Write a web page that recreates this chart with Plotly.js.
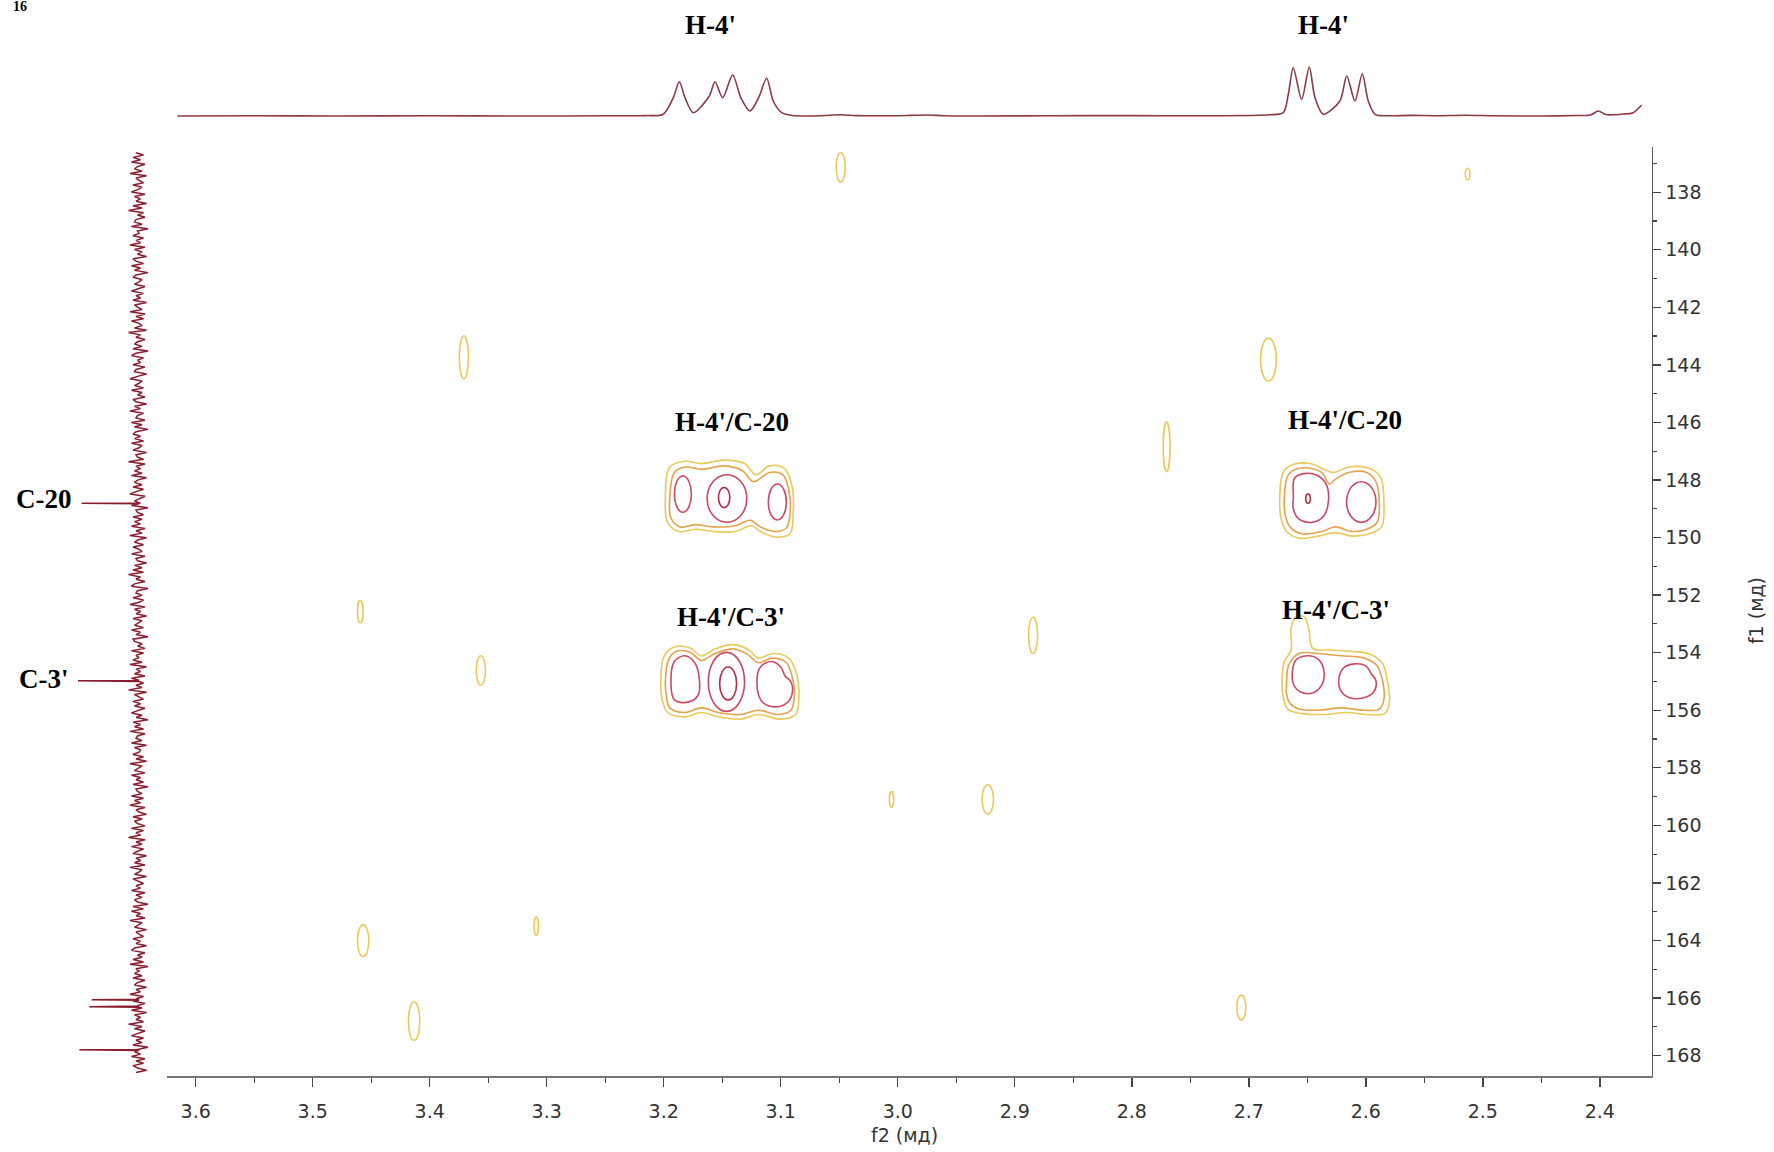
<!DOCTYPE html>
<html><head><meta charset="utf-8">
<script src="https://cdn.plot.ly/plotly-3.0.1.min.js"></script>
<style>html,body{margin:0;padding:0;background:#fff;}#chart{width:1774px;height:1152px;}</style>
</head><body><div id="chart"></div>
<script>
// ---------- axes ----------
const f2TickVals = [3.6,3.5,3.4,3.3,3.2,3.1,3.0,2.9,2.8,2.7,2.6,2.5,2.4];
const f2TickText = ['3.6','3.5','3.4','3.3','3.2','3.1','3.0','2.9','2.8','2.7','2.6','2.5','2.4'];
const f2MinorTicks = [3.55,3.45,3.35,3.25,3.15,3.05,2.95,2.85,2.75,2.65,2.55,2.45];
const f1TickVals = [138,140,142,144,146,148,150,152,154,156,158,160,162,164,166,168];
const f1TickText = ['138','140','142','144','146','148','150','152','154','156','158','160','162','164','166','168'];
const f1MinorTicks = [137,139,141,143,145,147,149,151,153,155,157,159,161,163,165,167];

// ---------- 1H projection (top) ----------
const h1Ppm = [3.6155,3.55,3.48,3.40,3.32,3.25,3.215,3.2004,3.1918,3.1867,3.1818,3.1747,3.1610,3.1562,3.1496,3.1411,3.1340,3.1263,3.1190,3.1120,3.1064,3.0992,3.090,3.065,3.050,3.035,3.010,2.990,2.975,2.960,2.930,2.870,2.800,2.740,2.700,2.682,2.6705,2.6662,2.6620,2.6548,2.6483,2.6434,2.6363,2.6221,2.6163,2.6092,2.6030,2.5979,2.5921,2.585,2.560,2.540,2.515,2.490,2.450,2.420,2.408,2.4013,2.395,2.388,2.380,2.372,2.3642];
const h1Int = [0,0.2,0,0.3,0,0.2,0.4,1.7,18.3,34.3,18.3,3.3,20,34.3,18.3,41,18,5,18,37.7,15,3.3,0.5,0.3,1.2,0.4,0.2,0.6,1.0,0.3,0,0.2,0.4,0.2,0.5,1.2,3.3,21.7,48.3,16.7,49,18.3,1.7,15,40,15,42.3,15,1.7,0.3,0.6,0.3,0.8,0.2,0,0.5,1,5,1.5,1.2,2,3,11];

// ---------- 13C projection (left) ----------
const c13Start = 136.63, c13End = 168.59;
const c13Noise = [
 2,-3,4,-1,5,-4,1,3,-2,6,-5,2,0,-3,4,-2,1,5,-4,3,
 -1,2,-5,4,-2,7,-3,1,-4,2,3,-2,5,-6,1,0,4,-3,2,-1,
 6,-4,3,-2,1,-5,4,2,-3,5,-1,3,-6,2,4,-2,0,3,-4,1,
 5,-3,2,-1,4,-5,3,1,-2,6,-4,2,-3,5,0,-2,3,-5,7,-1,
 2,-4,1,3,-2,4,-6,2,5,-3,1,-1,4,-4,2,3,-5,1,6,-2,
 0,3,-3,5,-2,1,-4,4,2,-5,3,-1,6,-3,1,2,-4,5,-2,3,
 -6,2,4,-1,3,-3,5,-2,0,4,-5,2,1,-3,7,-4,2,-1,3,-2,
 5,-5,1,3,-2,4,-3,2,6,-4,0,3,-1,5,-6,2,1,-3,4,-2,
 3,-1,5,-4,2,-2,6,-5,1,3,-3,4,0,-2,5,-4,2,1,-5,3,
 -2,4,-3,7,-1,2,-4,3,5,-6,1,2,-2,4,-3,0,6,-4,3,-1,
 2,-5,4,-2,1,3,-3,5,-1,2,-6,4,3,-2,1,-4,5,-3,2,0,
 4,-2,6,-5,2,-1,3,-4,5,1,-3,2,-2,7,-5,3,0,-3,4,-1,
 3,-4,1,5,-2,2,-6,4,-1,3,-3,6,-4,1,2,-2,5,-5,3,-1,
 0,4,-3,2,-5,6,-2,1,3,-4,5,-1,2,-3,4,-6,2,1,-2,5,
 -3,3,-1,6,-4,2,0,-5,4,-2,3,1,-4,5,-3,2,-1,7,-4,2,
 -2,5,-3,1,4,-5,2,-1,3,-4,6,-2,0,3,-5,4,1,-3,2,-1,
 5,-4,2,-2,3,1,-6,4,-3,5,-1,2,-4,6,-2,1,3,-5,2,0,
 -3,4,-1,2,-5,3,5,-4,1,-2,4,-3,6,-6,2,0,3,-2,4,-4,
 1,3,-5,2,-1,6,-3,2,4,-4,1,-2,5,-5,3,-1,2,-3,7,-2,
 3,-4,0,5,-3,2,-2,4,-6,1,3,-1,5,-4,2,-3,4,1,-5,2];
const c13PeakPpm = [148.81,154.98,166.06,166.30,167.80];
const c13PeakInt = [38.3,40.7,31.5,33.1,39.8];

// ---------- HMBC contours (f2 ppm, f1 ppm) ----------
const level1Polys = [
 [[3.1986,148.61],[3.1948,147.55],[3.1822,147.35],[3.1677,147.43],[3.1484,147.31],[3.1309,147.43],[3.1213,147.82],[3.1097,147.51],[3.0971,147.59],[3.0903,148.22],[3.0894,149.20],[3.0921,149.87],[3.1048,149.98],[3.1174,149.79],[3.1251,149.59],[3.1387,149.79],[3.1580,149.79],[3.1725,149.71],[3.1870,149.79],[3.1967,149.47]],
 [[3.2025,155.01],[3.1996,154.11],[3.1909,153.80],[3.1774,153.84],[3.1677,154.11],[3.1561,153.87],[3.1406,153.72],[3.1271,153.91],[3.1192,154.19],[3.1068,154.03],[3.0932,154.19],[3.0864,154.74],[3.0844,155.48],[3.0873,156.15],[3.1000,156.31],[3.1192,156.15],[3.1339,156.31],[3.1532,156.23],[3.1677,156.08],[3.1822,156.23],[3.1967,156.08],[3.2015,155.60]],
 [[2.6735,148.61],[2.6706,147.74],[2.6629,147.47],[2.6474,147.43],[2.6377,147.59],[2.6280,147.74],[2.6145,147.55],[2.5971,147.59],[2.5874,147.90],[2.5845,148.81],[2.5865,149.63],[2.5971,149.87],[2.6116,149.95],[2.6261,149.83],[2.6406,149.95],[2.6571,150.02],[2.6677,149.79],[2.6725,149.32]],
 [[2.6716,155.09],[2.6696,154.31],[2.6638,153.91],[2.6638,153.13],[2.6590,152.73],[2.6522,152.77],[2.6484,153.25],[2.6455,153.84],[2.6309,153.91],[2.6116,153.95],[2.5952,154.07],[2.5855,154.39],[2.5816,154.97],[2.5797,155.68],[2.5836,156.11],[2.5990,156.15],[2.6164,156.08],[2.6358,156.15],[2.6551,156.11],[2.6667,155.96],[2.6706,155.52]]
];
const level2Polys = [
 [[3.1948,148.61],[3.1909,147.74],[3.1813,147.55],[3.1677,147.63],[3.1484,147.51],[3.1329,147.67],[3.1232,148.06],[3.1097,147.74],[3.0981,147.82],[3.0932,148.33],[3.0921,149.20],[3.0952,149.67],[3.1048,149.79],[3.1174,149.63],[3.1261,149.40],[3.1387,149.59],[3.1580,149.63],[3.1725,149.55],[3.1861,149.63],[3.1938,149.32]],
 [[3.1986,155.01],[3.1957,154.23],[3.1890,153.95],[3.1774,153.99],[3.1677,154.27],[3.1561,154.03],[3.1406,153.87],[3.1280,154.07],[3.1192,154.35],[3.1068,154.19],[3.0952,154.35],[3.0903,154.82],[3.0883,155.48],[3.0913,156.00],[3.1019,156.15],[3.1192,156.00],[3.1339,156.15],[3.1532,156.08],[3.1677,155.92],[3.1822,156.08],[3.1948,155.92],[3.1977,155.52]],
 [[2.6696,148.61],[2.6667,147.86],[2.6600,147.63],[2.6474,147.59],[2.6377,147.74],[2.6309,148.14],[2.6261,147.98],[2.6145,147.74],[2.5990,147.74],[2.5913,148.06],[2.5884,148.81],[2.5903,149.47],[2.5990,149.71],[2.6116,149.79],[2.6261,149.63],[2.6377,149.79],[2.6551,149.87],[2.6648,149.63],[2.6687,149.24]],
 [[2.6677,155.09],[2.6658,154.42],[2.6571,154.03],[2.6406,154.03],[2.6213,154.11],[2.6010,154.19],[2.5903,154.46],[2.5855,155.01],[2.5845,155.64],[2.5884,155.96],[2.6010,156.00],[2.6213,155.92],[2.6406,156.00],[2.6571,155.96],[2.6648,155.76],[2.6677,155.44]]
];
const level3Polys = [
 [[3.1938,155.09],[3.1909,154.31],[3.1822,154.11],[3.1735,154.35],[3.1696,154.90],[3.1706,155.48],[3.1793,155.72],[3.1909,155.64]],
 [[3.1203,155.09],[3.1174,154.50],[3.1077,154.31],[3.1000,154.50],[3.0962,154.82],[3.0913,155.01],[3.0903,155.44],[3.0952,155.76],[3.1068,155.88],[3.1164,155.68]],
 [[2.6619,148.61],[2.6609,147.94],[2.6532,147.78],[2.6426,147.82],[2.6339,148.14],[2.6319,148.73],[2.6358,149.24],[2.6455,149.47],[2.6571,149.36],[2.6619,149.00]],
 [[2.6629,154.78],[2.6600,154.27],[2.6503,154.11],[2.6406,154.23],[2.6358,154.62],[2.6377,155.13],[2.6455,155.40],[2.6561,155.36],[2.6619,155.09]],
 [[2.6232,155.01],[2.6193,154.54],[2.6097,154.39],[2.6000,154.46],[2.5952,154.74],[2.5913,154.97],[2.5932,155.36],[2.6010,155.56],[2.6145,155.56],[2.6213,155.33]]
];
// ellipses: [f2 from, f2 to, f1 from, f1 to]
const level1Ellipses = [
 [3.0526,3.0449,136.62,137.65],[2.5149,2.5110,137.17,137.57],[3.3747,3.3669,142.99,144.48],
 [2.6899,2.6764,143.07,144.56],[2.7731,2.7673,145.98,147.71],[3.4617,3.4569,152.18,152.97],
 [3.3602,3.3524,154.11,155.13],[2.8882,2.8805,152.77,154.03],[3.0072,3.0034,158.83,159.38],
 [2.9279,2.9182,158.59,159.61],[3.3108,3.3070,163.19,163.82],[3.4617,3.4520,163.46,164.56],
 [3.4182,3.4085,166.13,167.47],[2.7102,2.7025,165.90,166.76]
];
const level3Ellipses = [
 [3.1909,3.1764,147.86,149.12],[3.1629,3.1290,147.82,149.47],[3.1106,3.0952,148.14,149.39],
 [3.1619,3.1309,153.99,156.04],[2.6164,2.5913,148.06,149.47]
];
const level4Ellipses = [
 [3.1532,3.1435,148.26,148.96],[3.1522,3.1377,154.50,155.64],[2.6513,2.6474,148.49,148.81]
];
const levelColors = ['#ebc95a','#e5a24f','#c94a62','#ad3049'];

// ---------- labels ----------
const crossLabels = [
 {text:"H-4'/C-20", f2:3.1417, f1:145.98},
 {text:"H-4'/C-20", f2:2.6178, f1:145.91},
 {text:"H-4'/C-3'", f2:3.1425, f1:152.76},
 {text:"H-4'/C-3'", f2:2.6255, f1:152.51}
];
const protonLabels = [{text:"H-4'", f2:3.160},{text:"H-4'", f2:2.636}];
const carbonLabels = [{text:"C-20", f1:148.66},{text:"C-3'", f1:154.91}];

// ---------- build ----------
const traces = [];
traces.push({type:'scatter', mode:'lines', x:h1Ppm, y:h1Int, xaxis:'x', yaxis:'y2',
  line:{color:'#8a3b43', width:1.6, shape:'spline', smoothing:0.8}, hoverinfo:'skip', showlegend:false});

// 13C trace: noise samples plus sharp lines
const cPts = [];
const n = c13Noise.length;
for (let i=0;i<n;i++) cPts.push([c13Start + i*(c13End-c13Start)/(n-1), c13Noise[i]]);
for (let k=0;k<c13PeakPpm.length;k++){
  cPts.push([c13PeakPpm[k]-0.02, 0]);
  cPts.push([c13PeakPpm[k], c13PeakInt[k]]);
  cPts.push([c13PeakPpm[k]+0.02, 0]);
}
cPts.sort((a,b)=>a[0]-b[0]);
traces.push({type:'scatter', mode:'lines', y:cPts.map(p=>p[0]), x:cPts.map(p=>p[1]), xaxis:'x2', yaxis:'y',
  line:{color:'#8b1e2e', width:1.5}, hoverinfo:'skip', showlegend:false});

function polyTrace(polys, color){
  const xs=[], ys=[];
  polys.forEach(p=>{ p.forEach(q=>{xs.push(q[0]); ys.push(q[1]);}); xs.push(p[0][0]); ys.push(p[0][1]); xs.push(null); ys.push(null); });
  return {type:'scatter', mode:'lines', x:xs, y:ys, xaxis:'x', yaxis:'y', connectgaps:false,
    line:{color:color, width:1.6, shape:'spline', smoothing:1}, hoverinfo:'skip', showlegend:false};
}
traces.push(polyTrace(level1Polys, levelColors[0]));
traces.push(polyTrace(level2Polys, levelColors[1]));
traces.push(polyTrace(level3Polys, levelColors[2]));

const shapes = [];
function addEllipses(list, color){
  list.forEach(e=>shapes.push({type:'circle', xref:'x', yref:'y', x0:e[0], x1:e[1], y0:e[2], y1:e[3],
    line:{color:color, width:1.6}, fillcolor:'rgba(0,0,0,0)', layer:'above'}));
}
addEllipses(level1Ellipses, levelColors[0]);
addEllipses(level3Ellipses, levelColors[2]);
addEllipses(level4Ellipses, levelColors[3]);

const serif = 'Liberation Serif, Times New Roman, serif';
const annotations = [];
crossLabels.forEach(l=>annotations.push({text:'<b>'+l.text+'</b>', xref:'x', yref:'y', x:l.f2, y:l.f1,
  xanchor:'center', yanchor:'middle', showarrow:false, font:{family:serif, size:27, color:'#000'}}));
protonLabels.forEach(l=>annotations.push({text:'<b>'+l.text+'</b>', xref:'x', yref:'paper', x:l.f2, y:0.978,
  xanchor:'center', yanchor:'middle', showarrow:false, font:{family:serif, size:27, color:'#000'}}));
carbonLabels.forEach(l=>annotations.push({text:'<b>'+l.text+'</b>', xref:'paper', yref:'y', x:0.0248, y:l.f1,
  xanchor:'center', yanchor:'middle', showarrow:false, font:{family:serif, size:27, color:'#000'}}));
annotations.push({text:'<b>16</b>', xref:'paper', yref:'paper', x:0.0113, y:1, xanchor:'center', yanchor:'top', yshift:3,
  showarrow:false, font:{family:serif, size:14, color:'#000'}});
annotations.push({text:'f2 (мд)', xref:'paper', yref:'paper', x:0.5101, y:0.0148, xanchor:'center', yanchor:'middle',
  showarrow:false, font:{family:'DejaVu Sans', size:19, color:'#333'}});
annotations.push({text:'f1 (мд)', xref:'paper', yref:'paper', x:0.9899, y:0.4696, xanchor:'center', yanchor:'middle', textangle:-90,
  showarrow:false, font:{family:'DejaVu Sans', size:19, color:'#333'}});

const tickFont = {family:'DejaVu Sans', size:19, color:'#333'};
const layout = {
  width:1774, height:1152, margin:{l:0,r:0,t:0,b:0},
  paper_bgcolor:'#fff', plot_bgcolor:'rgba(0,0,0,0)', showlegend:false,
  xaxis:{domain:[0.09414,0.93122], range:[3.6245,2.3554], anchor:'y', side:'bottom',
    showline:true, linecolor:'#777', linewidth:2, showgrid:false, zeroline:false,
    tickmode:'array', tickvals:f2TickVals, ticktext:f2TickText, ticks:'outside', ticklen:9, tickwidth:1.5, tickcolor:'#444',
    minor:{tickmode:'array', tickvals:f2MinorTicks, ticks:'outside', ticklen:5, tickwidth:1.3, tickcolor:'#444', showgrid:false},
    tickfont:tickFont, ticklabelstandoff:8},
  yaxis:{domain:[0.06597,0.87240], range:[168.71,136.43], anchor:'x', side:'right',
    showline:true, linecolor:'#555', linewidth:1.5, showgrid:false, zeroline:false,
    tickmode:'array', tickvals:f1TickVals, ticktext:f1TickText, ticks:'outside', ticklen:8, tickwidth:1.3, tickcolor:'#444',
    minor:{tickmode:'array', tickvals:f1MinorTicks, ticks:'outside', ticklen:4, tickwidth:1.2, tickcolor:'#444', showgrid:false},
    tickfont:tickFont},
  xaxis2:{domain:[0.03382,0.09019], range:[52.7,-14], anchor:'y', visible:false, showgrid:false, zeroline:false},
  yaxis2:{domain:[0.87847,0.96528], range:[-24,76], anchor:'x', visible:false, showgrid:false, zeroline:false},
  shapes:shapes, annotations:annotations
};
Plotly.newPlot('chart', traces, layout, {staticPlot:true, displayModeBar:false});
</script></body></html>
